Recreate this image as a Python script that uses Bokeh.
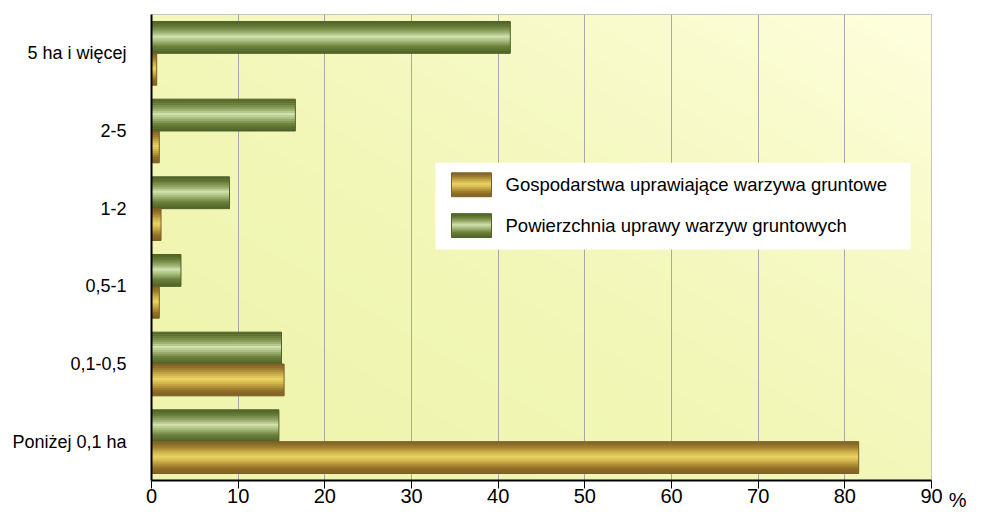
import numpy as np
from bokeh.plotting import figure
from bokeh.layouts import row
from bokeh.models import FixedTicker, Label, BoxAnnotation, Range1d
from bokeh.embed import file_html
from bokeh.resources import INLINE

# ---------------- data ----------------
categories = ["Poniżej 0,1 ha", "0,1-0,5", "0,5-1", "1-2", "2-5", "5 ha i więcej"]
gospodarstwa = [81.6, 15.3, 0.9, 1.1, 0.9, 0.6]     # Gospodarstwa uprawiające warzywa gruntowe
powierzchnia = [14.7, 15.0, 3.4, 9.0, 16.6, 41.4]    # Powierzchnia uprawy warzyw gruntowych
series_names = ["Gospodarstwa uprawiające warzywa gruntowe",
                "Powierzchnia uprawy warzyw gruntowych"]
x_ticks = [0, 10, 20, 30, 40, 50, 60, 70, 80, 90]
unit_label = "%"

FONT = "Liberation Sans"
XFS = "20px"

W_MAIN, W_UNIT, H = 944, 22, 513
p = figure(width=W_MAIN, height=H, x_range=Range1d(0, 90), y_range=Range1d(-0.5, 5.5),
           output_backend="svg", toolbar_location=None,
           min_border_left=151, min_border_right=W_MAIN - 931, min_border_top=14,
           min_border_bottom=31)
p.background_fill_color = "white"
p.border_fill_color = "white"
p.outline_line_color = "#B4B4B4"
p.outline_line_width = 1

# background gradient of plot area
ny, nx = 120, 240
u = np.linspace(0, 1, nx)[None, :]
v = np.linspace(0, 1, ny)[:, None]
s = ((u + v) / 2.0) ** 2
c0 = np.array([0xEF, 0xF5, 0xAE], dtype=float)
c1 = np.array([0xFF, 0xFF, 0xDF], dtype=float)
rgb = c0 + (c1 - c0) * s[..., None]
img = np.zeros((ny, nx), dtype=np.uint32)
view = img.view(dtype=np.uint8).reshape((ny, nx, 4))
view[..., 0] = rgb[..., 0]
view[..., 1] = rgb[..., 1]
view[..., 2] = rgb[..., 2]
view[..., 3] = 255
p.image_rgba(image=[img], x=0, y=-0.5, dw=90, dh=6, level="image")

# grid / axes
p.ygrid.grid_line_color = None
p.xgrid.grid_line_color = "#A8A8A8"
p.xgrid.grid_line_width = 1
p.xaxis.ticker = FixedTicker(ticks=x_ticks)
p.yaxis.ticker = FixedTicker(ticks=list(range(len(categories))))
p.yaxis.major_label_overrides = {i: c for i, c in enumerate(categories)}

for ax in (p.xaxis, p.yaxis):
    ax.axis_line_color = "black"
    ax.axis_line_width = 2
    ax.minor_tick_line_color = None
    ax.major_label_text_font = FONT
    ax.major_label_text_color = "black"
p.xaxis.major_tick_line_color = "black"
p.xaxis.major_tick_line_width = 1
p.xaxis.major_tick_out = 8
p.xaxis.major_tick_in = 0
p.xaxis.major_label_standoff = 0
p.xaxis.major_label_text_font_size = XFS
p.yaxis.major_tick_line_color = None
p.yaxis.major_label_standoff = 19
p.yaxis.major_label_text_font_size = "18px"

# shading profiles (t from top edge 0 to bottom edge 1)
def hx(c):
    return np.array([int(c[i:i + 2], 16) for i in (1, 3, 5)], dtype=float)

green_prof = [(0.00, "#4F6228"), (0.15, "#657A35"), (0.33, "#98AC6C"), (0.47, "#D2E1AE"),
              (0.60, "#A9BD7E"), (0.80, "#687E37"), (1.00, "#4F6228")]
gold_prof = [(0.00, "#7E5F26"), (0.15, "#9B7B2E"), (0.33, "#CDB04A"), (0.48, "#E9D565"),
             (0.63, "#CBAC46"), (0.83, "#937229"), (1.00, "#7E5F26")]

def prof_color(prof, t):
    for (t0, a), (t1, b) in zip(prof[:-1], prof[1:]):
        if t0 <= t <= t1:
            f = (t - t0) / (t1 - t0)
            c = hx(a) + (hx(b) - hx(a)) * f
            return "#%02x%02x%02x" % tuple(int(round(x)) for x in c)
    return prof[-1][1]

BAR_H = 0.41
NSL = 16
idx = np.arange(len(categories), dtype=float)

def shaded_bars(centers, vals, prof, edge):
    step = BAR_H / NSL
    top_edge = centers + BAR_H / 2
    for k in range(NSL):
        t = (k + 0.5) / NSL
        col = prof_color(prof, t)
        ext = 0.35 * step if k < NSL - 1 else 0.0
        p.quad(left=0, right=vals, top=top_edge - k * step,
               bottom=top_edge - (k + 1) * step - ext,
               fill_color=col, line_color=None)
    p.hbar(y=centers, height=BAR_H, left=0, right=vals, fill_alpha=0,
           line_color=edge, line_width=1)

shaded_bars(idx + BAR_H / 2, np.array(powierzchnia), green_prof, "#4F6228")
shaded_bars(idx - BAR_H / 2, np.array(gospodarstwa), gold_prof, "#7E5F26")

# legend (manual), positions given in canvas pixels and mapped to data space
px_per_x = 780.0 / 90.0
px_per_y = 78.0
def dx(px):
    return (px - 151) / px_per_x
def dy(py):
    return 5.5 - (py - 14) / px_per_y

p.add_layout(BoxAnnotation(left=dx(435), right=dx(910), top=dy(163), bottom=dy(250),
                           fill_color="white", fill_alpha=1.0, line_color=None))
sw_rows = [(173, 197, gold_prof, "#7E5F26", series_names[0], 185),
           (214, 238, green_prof, "#4F6228", series_names[1], 226)]
for (y0, y1, prof, edge, name, yc) in sw_rows:
    n = 12
    tpx = np.linspace(y0, y1, n + 1)
    for k in range(n):
        col = prof_color(prof, (k + 0.5) / n)
        ext = 0.4 if k < n - 1 else 0.0
        p.quad(left=[dx(451)], right=[dx(491)], top=[dy(tpx[k])], bottom=[dy(tpx[k + 1] + ext)],
               fill_color=col, line_color=None, level="overlay")
    p.quad(left=[dx(451)], right=[dx(491)], top=[dy(y0)], bottom=[dy(y1)],
           fill_alpha=0, line_color=edge, line_width=1, level="overlay")
    p.add_layout(Label(x=dx(505), y=dy(yc), text=name, text_font=FONT, text_font_size="18.5px",
                       text_color="black", text_baseline="middle", text_align="left"))

# small side panel carrying the unit sign, drawn as a tick label of its own x axis
q = figure(width=W_UNIT, height=H, x_range=Range1d(0, 1), y_range=Range1d(0, 1),
           output_backend="svg", toolbar_location=None, min_border=0,
           min_border_top=14, min_border_bottom=31, y_axis_type=None)
q.grid.visible = False
q.outline_line_color = None
q.background_fill_color = "white"
q.border_fill_color = "white"
q.xaxis.ticker = FixedTicker(ticks=[0.6])
q.xaxis.major_label_overrides = {0.6: unit_label}
q.xaxis.axis_line_color = None
q.xaxis.major_tick_line_color = None
q.xaxis.minor_tick_line_color = None
q.xaxis.major_tick_out = 8
q.xaxis.major_tick_in = 0
q.xaxis.major_label_standoff = 0
q.xaxis.major_label_text_font = FONT
q.xaxis.major_label_text_font_size = XFS
q.xaxis.major_label_text_color = "black"

layout = row(p, q, spacing=0)
open("out.html", "w").write(file_html(layout, INLINE))
